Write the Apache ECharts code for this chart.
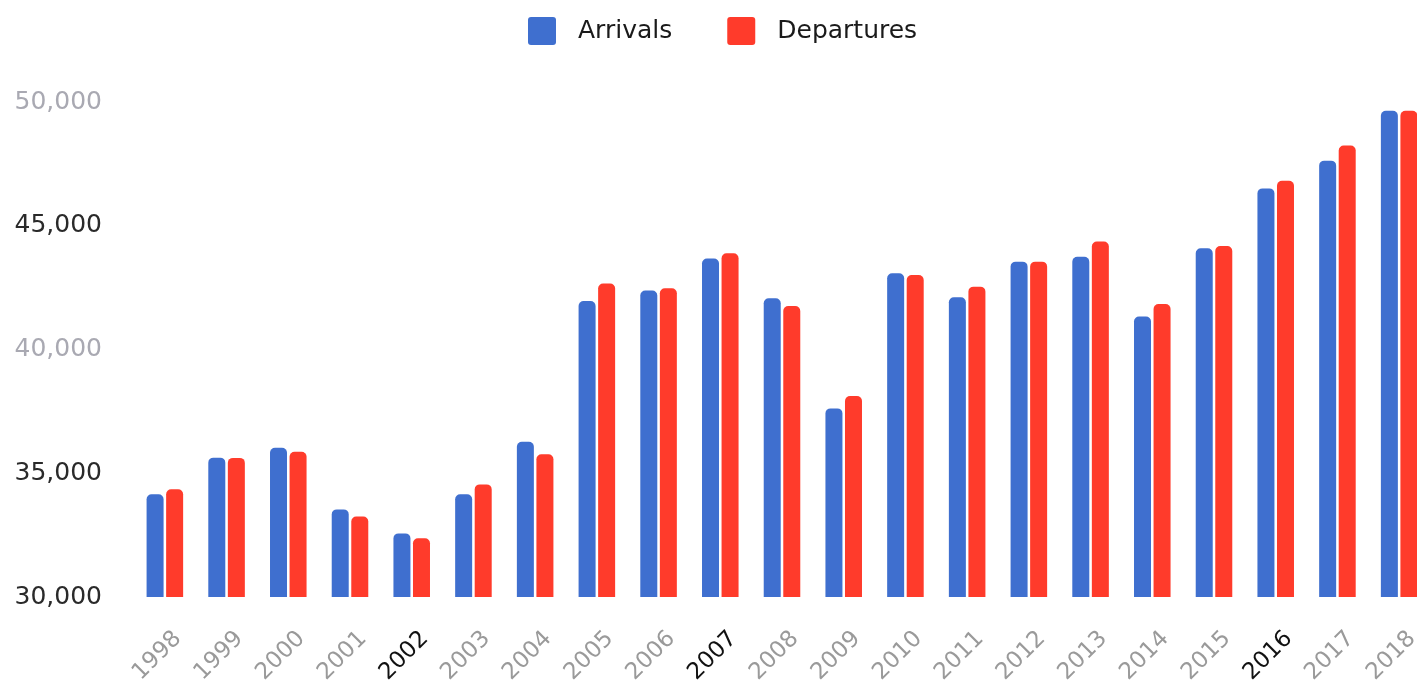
<!DOCTYPE html>
<html>
<head>
<meta charset="utf-8">
<script src="https://cdn.jsdelivr.net/npm/echarts@6/dist/echarts.min.js"></script>
<style>
html,body{margin:0;padding:0;overflow:hidden;background:#fff;width:1417px;height:689px;}
#chart{width:1430px;height:689px;}
</style>
</head>
<body>
<div id="chart"></div>
<script>
const years = ['1998','1999','2000','2001','2002','2003','2004','2005','2006','2007','2008','2009','2010','2011','2012','2013','2014','2015','2016','2017','2018'];
const arrivals = [34150,35630,36030,33540,32570,34150,36270,41960,42380,43680,42070,37620,43080,42110,43550,43750,41330,44090,46510,47630,49650];
const departures = [34350,35620,35870,33250,32370,34550,35770,42670,42470,43890,41760,38120,43010,42540,43550,44360,41840,44180,46820,48240,49650];
const yTicks = [30000,35000,40000,45000,50000];

const darkX = ['2002','2007','2016'];
const lightY = [40000,50000];

const chart = echarts.init(document.getElementById('chart'));
chart.setOption({
  animation:false,
  legend:{
    left:523, top:12,
    itemWidth:28, itemHeight:28, itemGap:55,
    icon:'path://M3,0 H25 A3,3 0 0 1 28,3 V25 A3,3 0 0 1 25,28 H3 A3,3 0 0 1 0,25 V3 A3,3 0 0 1 3,0 Z',
    textStyle:{fontFamily:'DejaVu Sans', fontSize:25, color:'#1a1a1a', padding:[0,0,0,17]},
    data:['Arrivals','Departures']
  },
  grid:{left:134, right:0, top:102, bottom:92, containLabel:false, outerBoundsMode:'none'},
  xAxis:{
    type:'category',
    data:years,
    axisLine:{show:false},
    axisTick:{show:false},
    axisLabel:{
      rotate:45, margin:25, interval:0, verticalAlign:'top', lineHeight:37,
      formatter:function(v){ return darkX.indexOf(v)>=0 ? '{k|'+v+'}' : '{g|'+v+'}'; },
      rich:{
        g:{fontFamily:'DejaVu Sans', fontSize:23, lineHeight:37, color:'#9a9a9a'},
        k:{fontFamily:'DejaVu Sans', fontSize:23, lineHeight:37, color:'#111'}
      }
    }
  },
  yAxis:{
    type:'value',
    min:yTicks[0], max:yTicks[yTicks.length-1], interval:5000,
    splitLine:{show:false},
    axisLine:{show:false},
    axisTick:{show:false},
    axisLabel:{
      margin:32,
      formatter:function(v){
        const s = v.toLocaleString('en-US');
        return lightY.indexOf(v)>=0 ? '{l|'+s+'}' : '{d|'+s+'}';
      },
      rich:{
        l:{fontFamily:'DejaVu Sans', fontSize:25, color:'#a9a9b2'},
        d:{fontFamily:'DejaVu Sans', fontSize:25, color:'#2a2a2a'}
      }
    }
  },
  series:[
    {name:'Arrivals', type:'bar', data:arrivals, barWidth:17, barGap:'15%',
     itemStyle:{color:'#3f6fcf', borderRadius:[5,5,0,0]}},
    {name:'Departures', type:'bar', data:departures, barWidth:17, barGap:'15%',
     itemStyle:{color:'#ff3b2b', borderRadius:[5,5,0,0]}}
  ]
});
</script>
</body>
</html>
